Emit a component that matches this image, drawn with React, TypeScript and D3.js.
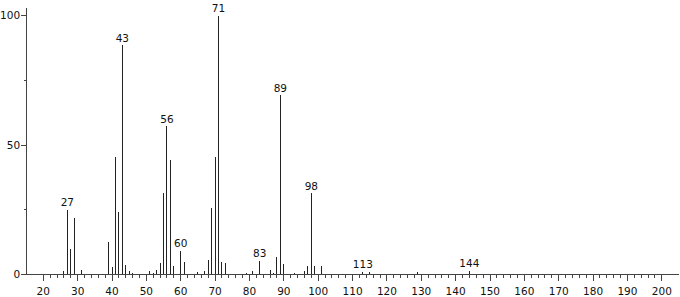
import React from "react";
import * as d3 from "d3";

const mz = [26, 27, 28, 29, 31, 39, 40, 41, 42, 43, 44, 45, 46, 51, 52, 53, 54, 55, 56, 57, 58, 60, 61, 65, 67, 68, 69, 70, 71, 72, 73, 79, 81, 83, 86, 87, 88, 89, 90, 93, 96, 97, 98, 99, 101, 113, 115, 129, 144];
const intensity = [1.5, 25, 10, 22, 1.6, 12.4, 3, 45.5, 24, 88.6, 3.7, 1.5, 0.5, 1.4, 0.6, 1.6, 4.3, 31.3, 57.3, 44.2, 3.4, 9.1, 4.9, 0.8, 1.2, 5.6, 25.5, 45.5, 100, 4.9, 4.6, 0.7, 1.4, 5.3, 1.7, 0.7, 6.9, 69.3, 3.9, 0.5, 1.4, 3.3, 31.3, 3.3, 3.3, 1, 0.8, 0.8, 1.5];
const labeledPeaks = [27, 43, 56, 60, 71, 83, 89, 98, 113, 144];
const xMajorTicks = d3.range(20, 201, 10);
const xMinorTicks = d3.range(20, 201, 2);
const yMajorTicks = [0, 50, 100];
const yMinorTicks = [25, 75];

const W = 680;
const H = 297;
const FONT = "'DejaVu Sans', sans-serif";

export default function App() {
  const x = d3.scaleLinear().domain([15, 205]).range([26.1, 679]);
  const y = d3.scaleLinear().domain([0, 100]).range([274.5, 15.5]);
  const peaks = mz.map((m, i) => ({ m, v: intensity[i] }));
  const y0 = y(0);
  const axisColor = "#444";
  return (
    <svg width={W} height={H} style={{ position: "absolute", left: 0, top: 0, background: "#fff" }} fontFamily={FONT}>
      {/* peaks */}
      {peaks.map((p) => (
        <line key={p.m} x1={x(p.m)} x2={x(p.m)} y1={y0} y2={y(p.v)} stroke="#222" strokeWidth={1} shapeRendering="crispEdges" />
      ))}
      {/* peak labels */}
      {peaks.filter((p) => labeledPeaks.includes(p.m)).map((p) => (
        <text key={"l" + p.m} x={x(p.m)} y={y(p.v) - 3.5} textAnchor="middle" fontSize={10.5} fill="#111">{p.m}</text>
      ))}
      {/* x axis */}
      <line x1={x(15)} x2={x(205)} y1={y0} y2={y0} stroke={axisColor} strokeWidth={1} shapeRendering="crispEdges" />
      {xMinorTicks.map((t) => (
        <line key={"xm" + t} x1={x(t)} x2={x(t)} y1={y0} y2={y0 + 3} stroke={axisColor} strokeWidth={1} shapeRendering="crispEdges" />
      ))}
      {xMajorTicks.map((t) => (
        <g key={"xM" + t}>
          <line x1={x(t)} x2={x(t)} y1={y0} y2={y0 + 6} stroke={axisColor} strokeWidth={1} shapeRendering="crispEdges" />
          <text x={x(t)} y={295} textAnchor="middle" fontSize={10.5} fill="#111">{t}</text>
        </g>
      ))}
      {/* y axis */}
      <line x1={x(15)} x2={x(15)} y1={y0} y2={y(100) - 8} stroke={axisColor} strokeWidth={1} shapeRendering="crispEdges" />
      {yMinorTicks.map((t) => (
        <line key={"ym" + t} x1={x(15) - 2} x2={x(15)} y1={y(t)} y2={y(t)} stroke={axisColor} strokeWidth={1} shapeRendering="crispEdges" />
      ))}
      {yMajorTicks.map((t) => (
        <g key={"yM" + t}>
          <line x1={x(15) - 5} x2={x(15)} y1={y(t)} y2={y(t)} stroke={axisColor} strokeWidth={1} shapeRendering="crispEdges" />
          <text x={x(15) - 6} y={y(t)} dy="0.36em" textAnchor="end" fontSize={10.5} fill="#111">{t}</text>
        </g>
      ))}
    </svg>
  );
}
